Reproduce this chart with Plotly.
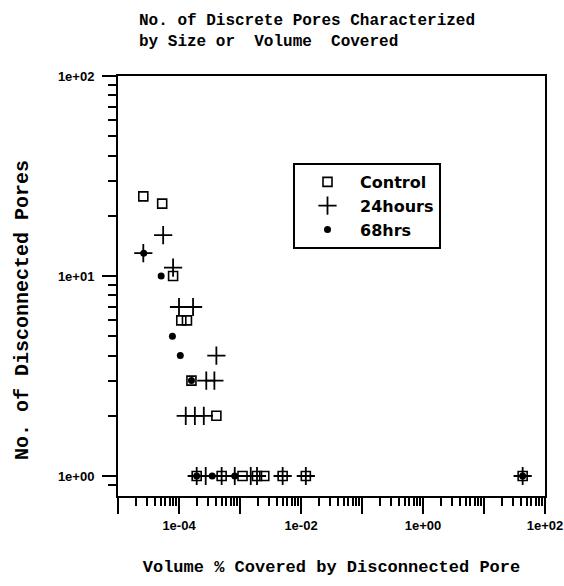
import plotly.graph_objects as go

# ---- data ----
control_x = [2.6e-5, 5.3e-5, 8.0e-5, 1.09e-4, 1.35e-4, 1.6e-4, 4.1e-4,
             1.95e-4, 5.0e-4, 1.1e-3, 1.9e-3, 2.5e-3, 5.0e-3, 1.2e-2, 43]
control_y = [25, 23, 10, 6, 6, 3, 2, 1, 1, 1, 1, 1, 1, 1, 1]

h24_x = [2.6e-5, 5.5e-5, 8.0e-5, 1.0e-4, 1.7e-4, 4.1e-4, 2.8e-4, 3.8e-4,
         1.29e-4, 1.82e-4, 2.55e-4,
         1.95e-4, 2.74e-4, 5.0e-4, 8.2e-4, 1.5e-3, 1.9e-3, 5.0e-3, 1.2e-2, 43]
h24_y = [13, 16, 11, 7, 7, 4, 3, 3, 2, 2, 2, 1, 1, 1, 1, 1, 1, 1, 1, 1]

h68_x = [2.64e-5, 5.1e-5, 7.8e-5, 1.05e-4, 1.6e-4, 1.95e-4, 3.5e-4, 8.2e-4, 43]
h68_y = [13, 10, 5, 4, 3, 1, 1, 1, 1]

x_tickvals = [1e-5, 1e-4, 1e-3, 1e-2, 1e-1, 1e0, 1e1, 1e2]
x_ticktext = ["", "1e-04", "", "1e-02", "", "1e+00", "", "1e+02"]
y_tickvals = [1, 10, 100]
y_ticktext = ["1e+00", "1e+01", "1e+02"]

title_text = ("No. of Discrete Pores Characterized<br>"
              "by Size or\u00a0\u00a0Volume\u00a0\u00a0Covered")
x_title = "Volume % Covered by Disconnected Pore"
y_title = "No. of Disconnected Pores"

# ---- figure ----
fig = go.Figure()
fig.add_trace(go.Scatter(
    x=control_x, y=control_y, mode="markers", name="Control",
    marker=dict(symbol="square-open", size=9, color="black",
                line=dict(width=1.6, color="black"))))
fig.add_trace(go.Scatter(
    x=h24_x, y=h24_y, mode="markers", name="24hours",
    marker=dict(symbol="cross-thin-open", size=13, color="black",
                line=dict(width=1.8, color="black"))))
fig.add_trace(go.Scatter(
    x=h68_x, y=h68_y, mode="markers", name="68hrs",
    marker=dict(symbol="circle", size=7, color="black")))

minor_x = [m * 10.0 ** e for e in range(-5, 2) for m in range(2, 10)]
minor_y = [0.9] + [m * 10.0 ** e for e in range(0, 2) for m in range(2, 10)]

tickfont = dict(family="Liberation Sans", size=13, color="black", weight="bold")
mono = "Liberation Mono"
L, R, T, B = 118, 545, 76, 496
PW, PH = R - L, B - T

fig.update_layout(
    width=564, height=586,
    margin=dict(l=L, r=564 - R, t=T, b=586 - B),
    paper_bgcolor="white", plot_bgcolor="white",
    showlegend=True,
    legend=dict(x=(293 - L) / PW, y=(B - 163) / PH, xanchor="left", yanchor="top",
                bordercolor="black", borderwidth=2, bgcolor="white",
                font=dict(family="DejaVu Sans", size=16, color="black", weight="bold"),
                itemwidth=55, tracegroupgap=0),
    annotations=[
        dict(text=title_text, xref="paper", yref="paper",
             x=(137 - L) / PW, y=(B - 32) / PH,
             xanchor="left", yanchor="middle", align="left", showarrow=False,
             font=dict(family=mono, size=16, color="black", weight="bold")),
        dict(text=y_title, xref="paper", yref="paper",
             x=(22 - L) / PW, y=(B - 310) / PH, textangle=-90,
             xanchor="center", yanchor="middle", showarrow=False,
             font=dict(family=mono, size=20, color="black", weight="bold")),
    ],
)

fig.update_xaxes(
    type="log", range=[-5, 2],
    tickmode="array", tickvals=x_tickvals, ticktext=x_ticktext,
    ticks="outside", ticklen=16, tickwidth=2, tickcolor="black",
    minor=dict(tickmode="array", tickvals=minor_x, ticks="outside",
               ticklen=8, tickwidth=1.5, tickcolor="black", showgrid=False),
    showline=True, linewidth=2, linecolor="black", mirror=True,
    showgrid=False, zeroline=False,
    tickfont=tickfont, ticklabelstandoff=0,
    title=dict(text=x_title, standoff=29,
               font=dict(family=mono, size=17, color="black", weight="bold")),
    automargin=False,
)
fig.update_yaxes(
    type="log", range=[-0.1, 2],
    tickmode="array", tickvals=y_tickvals, ticktext=y_ticktext,
    ticks="outside", ticklen=14, tickwidth=2, tickcolor="black",
    minor=dict(tickmode="array", tickvals=minor_y, ticks="outside",
               ticklen=8, tickwidth=1.5, tickcolor="black", showgrid=False),
    showline=True, linewidth=2, linecolor="black", mirror=True,
    showgrid=False, zeroline=False,
    tickfont=tickfont, ticklabelstandoff=5,
    automargin=False,
)

fig.write_html("out.html",
               config={"displayModeBar": False},
               post_script="document.body.style.margin='0';"
                           "document.body.style.overflow='hidden';")
